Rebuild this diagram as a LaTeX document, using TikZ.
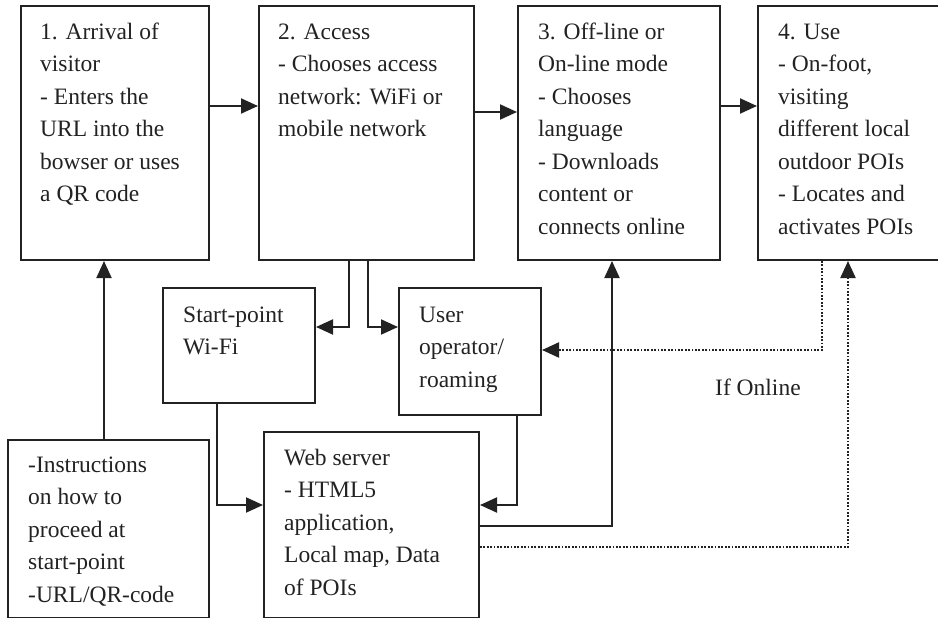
\documentclass[tikz,border=0pt]{standalone}
\usepackage{fontspec}
\setmainfont{Liberation Serif}
\usetikzlibrary{arrows.meta,calc}
\definecolor{ink}{HTML}{222222}
\tikzset{
  box/.style={draw=ink, line width=2pt, rectangle, inner sep=0pt, anchor=north west},
  txt/.style={anchor=north west, align=left, inner sep=0pt, text=ink,
    font=\fontsize{23.5}{32.5}\selectfont},
  arr/.style={draw=ink, line width=2pt, -{Triangle[length=17pt,width=15pt]}},
  dotarr/.style={draw=ink, line width=2.2pt, dash pattern=on 1.8pt off 1.6pt,
    -{Triangle[length=17pt,width=15pt]}}
}
\begin{document}
\begin{tikzpicture}[x=1pt,y=-1pt]
\useasboundingbox (0,0) rectangle (938,618);
% boxes
\node[box, minimum width=188pt, minimum height=254pt] (b1) at (20,5) {};
\node[box, minimum width=215pt, minimum height=254pt] (b2) at (258,5) {};
\node[box, minimum width=202pt, minimum height=254pt] (b3) at (517,5) {};
\node[box, minimum width=193pt, minimum height=254pt] (b4) at (757,5) {};
\node[box, minimum width=152pt, minimum height=115pt] (sp) at (162,287) {};
\node[box, minimum width=142pt, minimum height=127pt] (uo) at (398,287) {};
\node[box, minimum width=201pt, minimum height=178pt] (instr) at (7,439) {};
\node[box, minimum width=215pt, minimum height=186pt] (web) at (263,431) {};
% texts (first baseline = offset + strut height 22.75)
\node[txt] (b1t) at ([shift={(20,11.25)}]b1.north west) {\strut 1. Arrival of\\visitor\\- Enters the\\URL into the\\bowser or uses\\a QR code};
\node[txt] (b2t) at ([shift={(20,11.25)}]b2.north west) {\strut 2. Access\\- Chooses access\\network: WiFi or\\mobile network};
\node[txt] (b3t) at ([shift={(21,11.25)}]b3.north west) {\strut 3. Off-line or\\On-line mode\\- Chooses\\language\\- Downloads\\content or\\connects online};
\node[txt] (b4t) at ([shift={(21,11.25)}]b4.north west) {\strut 4. Use\\- On-foot,\\visiting\\different local\\outdoor POIs\\- Locates and\\activates POIs};
\node[txt] (spt) at ([shift={(21,12.25)}]sp.north west) {\strut Start-point\\Wi-Fi};
\node[txt] (uot) at ([shift={(21,12.25)}]uo.north west) {\strut User\\operator/\\roaming};
\node[txt] (instrt) at ([shift={(21,10.25)}]instr.north west) {\strut -Instructions\\on how to\\proceed at\\start-point\\-URL/QR-code};
\node[txt] (webt) at ([shift={(21,11.25)}]web.north west) {\strut Web server\\- HTML5\\application,\\Local map, Data\\of POIs};
\node[txt, anchor=base west] (online) at (715,395) {If Online};
% helper coordinates
\coordinate (xa) at (104,0);
\coordinate (xb) at (349,0);
\coordinate (xc) at (368,0);
\coordinate (xd) at (217,0);
\coordinate (xe) at (517,0);
\coordinate (xf) at (612,0);
\coordinate (xg) at (848,0);
\coordinate (xh) at (822,0);
\coordinate (ya) at (0,106);
\coordinate (yb) at (0,112);
\coordinate (yc) at (0,327);
\coordinate (yd) at (0,505);
\coordinate (ye) at (0,526);
\coordinate (yf) at (0,547);
\coordinate (yg) at (0,350);
% connectors
\draw[arr] (instr.north -| xa) -- (b1.south -| xa);
\draw[arr] (b1.east |- ya) -- (b2.west |- ya);
\draw[arr] (b2.east |- yb) -- (b3.west |- yb);
\draw[arr] (b3.east |- ya) -- (b4.west |- ya);
\draw[arr] (b2.south -| xb) |- (sp.east |- yc);
\draw[arr] (b2.south -| xc) |- (uo.west |- yc);
\draw[arr] (sp.south -| xd) |- (web.west |- yd);
\draw[arr] (uo.south -| xe) |- (web.east |- yd);
\draw[arr] (web.east |- ye) -| (b3.south -| xf);
\draw[dotarr] (web.east |- yf) -| (b4.south -| xg);
\draw[dotarr] (b4.south -| xh) |- (uo.east |- yg);
\end{tikzpicture}
\end{document}
